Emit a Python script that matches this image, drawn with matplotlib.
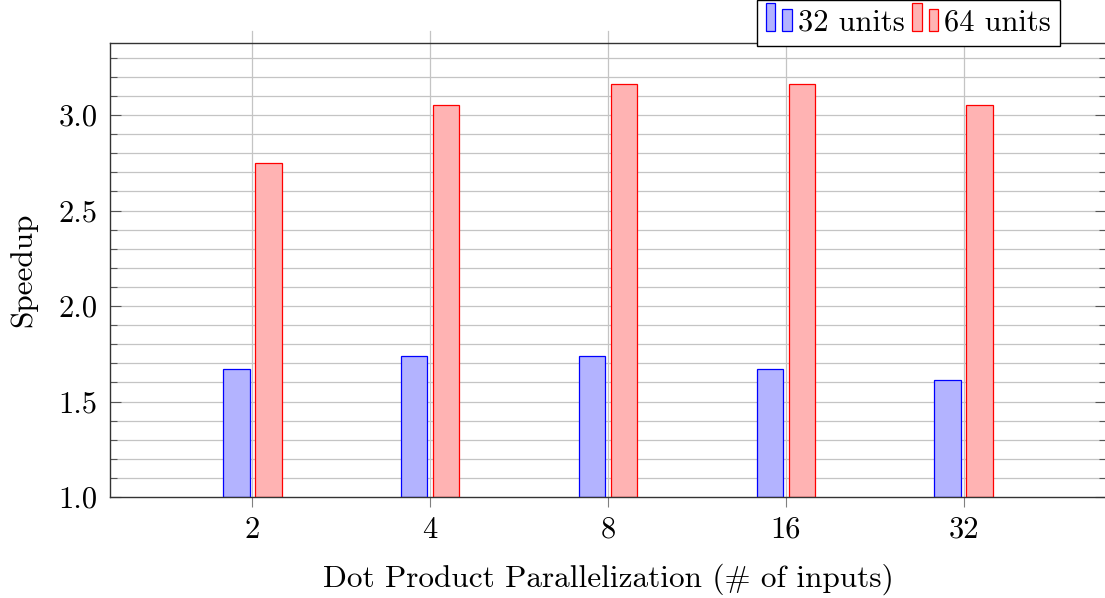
import matplotlib
matplotlib.use("Agg")
import matplotlib.pyplot as plt
import numpy as np
from matplotlib.patches import Rectangle
from matplotlib.legend_handler import HandlerBase

plt.rcParams['font.family'] = 'serif'
plt.rcParams['font.serif'] = ['cmr10']
plt.rcParams['mathtext.fontset'] = 'cm'
plt.rcParams['axes.formatter.use_mathtext'] = True

categories = ["2", "4", "8", "16", "32"]
units32 = [1.67, 1.74, 1.74, 1.67, 1.61]
units64 = [2.75, 3.05, 3.16, 3.16, 3.05]
series_labels = ["32 units", "64 units"]
ytick_vals = [1.0, 1.5, 2.0, 2.5, 3.0]
ytick_labels = ["1.0", "1.5", "2.0", "2.5", "3.0"]

W, H = 1105, 598
fig = plt.figure(figsize=(W/100, H/100), dpi=100)
ax = fig.add_axes([110/W, (H-497)/H, (1106-110)/W, (497-43)/H])

x = np.arange(len(categories))
bw = 0.15
off = 0.09
grid_c = '#c4c4c4'
ax.set_xlim(-0.8, 4.8)
ax.set_ylim(1.0, 3.377)

# grid
minor = np.round(np.arange(1.1, 3.35, 0.1), 2)
for yv in minor:
    ax.axhline(yv, color=grid_c, lw=0.9, zorder=0)
for xv in x:
    ax.plot([xv, xv], [1.0, 3.44], color=grid_c, lw=0.9, zorder=0, clip_on=False)

b1 = ax.bar(x - off, np.array(units32) - 1.0, bw, bottom=1.0, color='#b3b3ff', edgecolor='blue', lw=0.9, zorder=2, label=series_labels[0])
b2 = ax.bar(x + off, np.array(units64) - 1.0, bw, bottom=1.0, color='#ffb3b3', edgecolor='red', lw=0.9, zorder=2, label=series_labels[1])

ax.set_xticks(x)
ax.set_xticklabels(categories, fontsize=22)
ax.set_yticks(ytick_vals)
ax.set_yticklabels(ytick_labels, fontsize=22)
ax.set_yticks(minor, minor=True)
ax.tick_params(axis='x', direction='out', length=7, width=0.8, color='#808080', pad=7)
ax.tick_params(axis='y', which='major', direction='in', length=8, width=0.8, color='#555555', right=True, pad=9)
ax.tick_params(axis='y', which='minor', direction='in', length=5, width=0.8, color='#555555', right=True)

for s in ax.spines.values():
    s.set_linewidth(1.0)
    s.set_color('#333333')

ax.set_xlabel("Dot Product Parallelization (# of inputs)", fontsize=22.5, labelpad=14)
ax.set_ylabel("Speedup", fontsize=22.5, labelpad=15)


class TwoBarHandler(HandlerBase):
    def create_artists(self, legend, orig_handle, xdescent, ydescent, width, height, fontsize, trans):
        fc = orig_handle.get_facecolor()
        ec = orig_handle.get_edgecolor()
        bwid = width * 0.36
        r1 = Rectangle((-xdescent, -ydescent), bwid, height * 1.3, facecolor=fc, edgecolor=ec, lw=0.9, transform=trans)
        r2 = Rectangle((-xdescent + width * 0.64, -ydescent), bwid, height * 1.0, facecolor=fc, edgecolor=ec, lw=0.9, transform=trans)
        return [r1, r2]


h1 = b1.patches[0]
h2 = b2.patches[0]
leg = fig.legend([h1, h2], series_labels, handler_map={h1: TwoBarHandler(), h2: TwoBarHandler()},
                 loc='lower center', bbox_to_anchor=(908.5/W, (H-46)/H), ncol=2, fontsize=22,
                 frameon=True, fancybox=False, edgecolor='black', framealpha=1,
                 handlelength=0.85, handletextpad=0.2, columnspacing=0.25, borderpad=0.3,
                 borderaxespad=0)
leg.get_frame().set_linewidth(1.0)

fig.savefig("out.png", dpi=100)
